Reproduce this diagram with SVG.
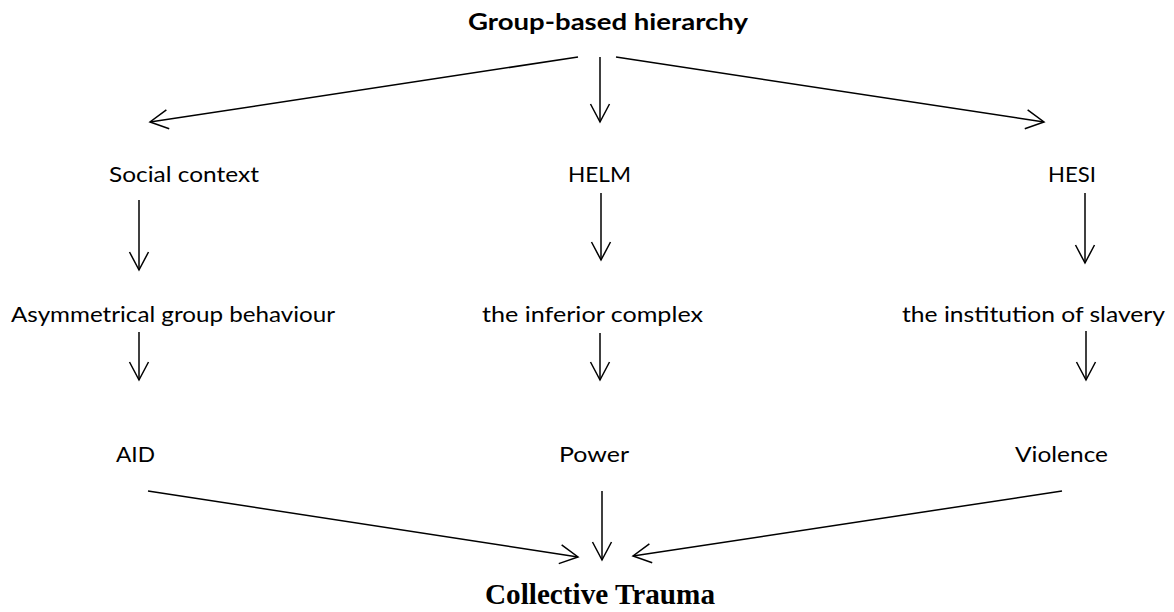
<svg xmlns="http://www.w3.org/2000/svg" width="1174" height="612" viewBox="0 0 1174 612">
<style>
  .lbl { font-family: Lato, "Open Sans", "Liberation Sans", sans-serif; font-size: 22px; fill: #000; }
  .bold { font-weight: bold; }
  .ser { font-family: "Liberation Serif", "DejaVu Serif", serif; font-size: 29px; font-weight: bold; fill: #000; }
  .conn line { stroke: #000; stroke-width: 1.5; fill: none; marker-end: url(#arr); }
</style>
<defs>
  <marker id="arr" markerUnits="userSpaceOnUse" viewBox="-20 -12 22 24" markerWidth="22" markerHeight="24" refX="0" refY="0" orient="auto" overflow="visible">
    <path d="M-18,-9.5 L0,0 L-18,9.5" fill="none" stroke="#000" stroke-width="1.5" stroke-linejoin="miter"/>
  </marker>
</defs>
<rect width="1174" height="612" fill="#fff"/>
<g id="n-hierarchy"><text class="lbl bold" x="468" y="30" textLength="280" lengthAdjust="spacingAndGlyphs">Group-based hierarchy</text></g>
<g id="n-social"><text class="lbl" x="109" y="182" textLength="150" lengthAdjust="spacingAndGlyphs">Social context</text></g>
<g id="n-helm"><text class="lbl" x="568" y="182" textLength="63" lengthAdjust="spacingAndGlyphs">HELM</text></g>
<g id="n-hesi"><text class="lbl" x="1048" y="182" textLength="48" lengthAdjust="spacingAndGlyphs">HESI</text></g>
<g id="n-asym"><text class="lbl" x="11" y="322" textLength="324" lengthAdjust="spacingAndGlyphs">Asymmetrical group behaviour</text></g>
<g id="n-inferior"><text class="lbl" x="482" y="322" textLength="221" lengthAdjust="spacingAndGlyphs">the inferior complex</text></g>
<g id="n-slavery"><text class="lbl" x="902" y="322" textLength="263" lengthAdjust="spacingAndGlyphs">the institution of slavery</text></g>
<g id="n-aid"><text class="lbl" x="116" y="462" textLength="39" lengthAdjust="spacingAndGlyphs">AID</text></g>
<g id="n-power"><text class="lbl" x="559" y="462" textLength="70" lengthAdjust="spacingAndGlyphs">Power</text></g>
<g id="n-violence"><text class="lbl" x="1015" y="462" textLength="93" lengthAdjust="spacingAndGlyphs">Violence</text></g>
<g id="n-trauma"><text class="ser" x="485" y="604" textLength="230" lengthAdjust="spacingAndGlyphs">Collective Trauma</text></g>
<g id="connectors" class="conn">
  <line x1="578" y1="57" x2="150" y2="122"/>
  <line x1="600" y1="57" x2="600" y2="122"/>
  <line x1="616" y1="57" x2="1044" y2="122"/>
  <line x1="139" y1="200" x2="139" y2="270"/>
  <line x1="601" y1="193" x2="601" y2="260"/>
  <line x1="1085" y1="193" x2="1085" y2="263"/>
  <line x1="139" y1="332" x2="139" y2="380"/>
  <line x1="600" y1="333" x2="600" y2="380"/>
  <line x1="1086" y1="331" x2="1086" y2="380"/>
  <line x1="148" y1="491" x2="578" y2="557"/>
  <line x1="602" y1="491" x2="602" y2="560"/>
  <line x1="1062" y1="491" x2="633" y2="556"/>
</g>
</svg>
